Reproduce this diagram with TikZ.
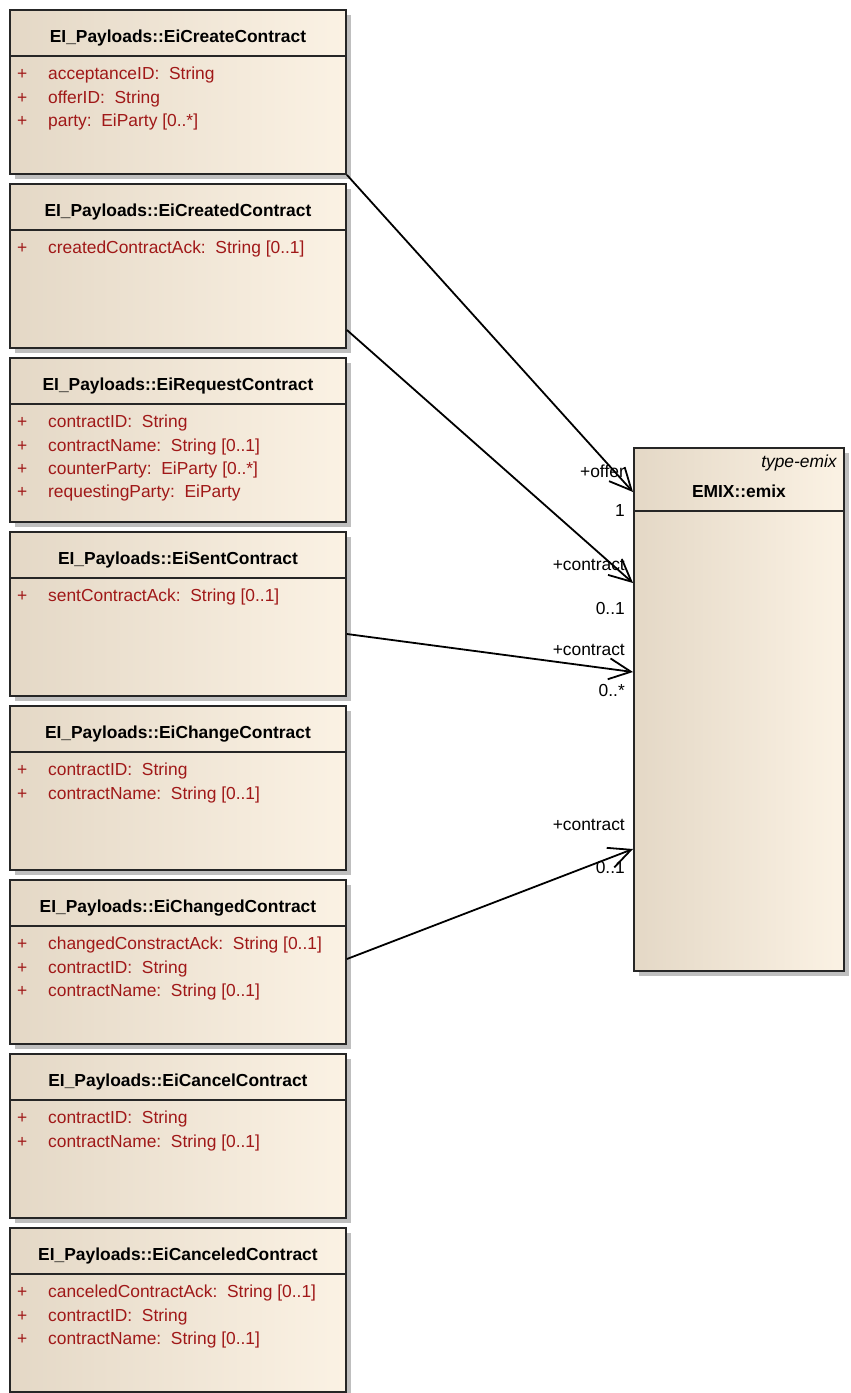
\documentclass[tikz,border=0pt]{standalone}
\usepackage{fontspec}
\setmainfont{Liberation Sans}
\usetikzlibrary{arrows.meta,shadows}

\definecolor{boxleft}{RGB}{228,216,198}
\definecolor{boxright}{RGB}{251,242,228}
\definecolor{attrred}{RGB}{160,24,24}
\newcommand{\attrplus}{\makebox[31pt][l]{+}}

\begin{document}
\begin{tikzpicture}
[x=1pt, y=-1pt,
  font=\fontsize{17.4}{23.3}\selectfont,
  class/.style={draw=black!85, line width=1.9pt, left color=boxleft, right color=boxright,
    minimum width=336pt, minimum height=164pt, inner sep=0pt, anchor=north west,
    drop shadow={shadow xshift=5pt, shadow yshift=-5pt, fill=black!25, opacity=1}},
  divider/.style={draw=black!85, line width=1.9pt},
  title/.style={font=\fontsize{17.4}{20}\selectfont\bfseries, anchor=base, inner sep=0pt},
  attr/.style={text=attrred, anchor=north west, inner sep=0pt, align=left},
  assoc/.style={line width=1.8pt, -{Straight Barb[length=22pt, width=21pt, line width=1.8pt]}},
  role/.style={anchor=east, inner sep=0pt}]
  \useasboundingbox (0,0) rectangle (851,1393);

  % payload classes
  \node[class] (create) at (9,9) {};
  \node[title] (create-t) at ([yshift=-33pt]create.north) {EI\_Payloads::EiCreateContract};
  \draw[divider] ([yshift=-47pt]create.north west) -- ([yshift=-47pt]create.north east);
  \node[attr] (create-a) at ([xshift=8pt,yshift=-58pt]create.north west)
    {\attrplus acceptanceID:\ \ String\\ \attrplus offerID:\ \ String\\ \attrplus party:\ \ EiParty [0..*]};

  \node[class] (created) at (9,183) {};
  \node[title] (created-t) at ([yshift=-33pt]created.north) {EI\_Payloads::EiCreatedContract};
  \draw[divider] ([yshift=-47pt]created.north west) -- ([yshift=-47pt]created.north east);
  \node[attr] (created-a) at ([xshift=8pt,yshift=-58pt]created.north west)
    {\attrplus createdContractAck:\ \ String [0..1]};

  \node[class] (request) at (9,357) {};
  \node[title] (request-t) at ([yshift=-33pt]request.north) {EI\_Payloads::EiRequestContract};
  \draw[divider] ([yshift=-47pt]request.north west) -- ([yshift=-47pt]request.north east);
  \node[attr] (request-a) at ([xshift=8pt,yshift=-58pt]request.north west)
    {\attrplus contractID:\ \ String\\ \attrplus contractName:\ \ String [0..1]\\
     \attrplus counterParty:\ \ EiParty [0..*]\\ \attrplus requestingParty:\ \ EiParty};

  \node[class] (sent) at (9,531) {};
  \node[title] (sent-t) at ([yshift=-33pt]sent.north) {EI\_Payloads::EiSentContract};
  \draw[divider] ([yshift=-47pt]sent.north west) -- ([yshift=-47pt]sent.north east);
  \node[attr] (sent-a) at ([xshift=8pt,yshift=-58pt]sent.north west)
    {\attrplus sentContractAck:\ \ String [0..1]};

  \node[class] (change) at (9,705) {};
  \node[title] (change-t) at ([yshift=-33pt]change.north) {EI\_Payloads::EiChangeContract};
  \draw[divider] ([yshift=-47pt]change.north west) -- ([yshift=-47pt]change.north east);
  \node[attr] (change-a) at ([xshift=8pt,yshift=-58pt]change.north west)
    {\attrplus contractID:\ \ String\\ \attrplus contractName:\ \ String [0..1]};

  \node[class] (changed) at (9,879) {};
  \node[title] (changed-t) at ([yshift=-33pt]changed.north) {EI\_Payloads::EiChangedContract};
  \draw[divider] ([yshift=-47pt]changed.north west) -- ([yshift=-47pt]changed.north east);
  \node[attr] (changed-a) at ([xshift=8pt,yshift=-58pt]changed.north west)
    {\attrplus changedConstractAck:\ \ String [0..1]\\ \attrplus contractID:\ \ String\\
     \attrplus contractName:\ \ String [0..1]};

  \node[class] (cancel) at (9,1053) {};
  \node[title] (cancel-t) at ([yshift=-33pt]cancel.north) {EI\_Payloads::EiCancelContract};
  \draw[divider] ([yshift=-47pt]cancel.north west) -- ([yshift=-47pt]cancel.north east);
  \node[attr] (cancel-a) at ([xshift=8pt,yshift=-58pt]cancel.north west)
    {\attrplus contractID:\ \ String\\ \attrplus contractName:\ \ String [0..1]};

  \node[class] (canceled) at (9,1227) {};
  \node[title] (canceled-t) at ([yshift=-33pt]canceled.north) {EI\_Payloads::EiCanceledContract};
  \draw[divider] ([yshift=-47pt]canceled.north west) -- ([yshift=-47pt]canceled.north east);
  \node[attr] (canceled-a) at ([xshift=8pt,yshift=-58pt]canceled.north west)
    {\attrplus canceledContractAck:\ \ String [0..1]\\ \attrplus contractID:\ \ String\\
     \attrplus contractName:\ \ String [0..1]};

  % the emix type
  \node[class, minimum width=210pt, minimum height=523pt] (emix) at (633,447) {};
  \node[anchor=base east, inner sep=0pt, font=\fontsize{17.4}{20}\selectfont\itshape] (emix-s)
    at ([xshift=-8pt,yshift=-20pt]emix.north east) {type-emix};
  \node[title] (emix-t) at ([yshift=-50pt]emix.north) {EMIX::emix};
  \draw[divider] ([yshift=-64pt]emix.north west) -- ([yshift=-64pt]emix.north east);

  % associations
  \draw[assoc] (create.south east) -- ([yshift=-45pt]emix.north west);
  \draw[assoc] ([yshift=-147pt]created.north east) -- ([yshift=-136pt]emix.north west);
  \draw[assoc] ([yshift=-103pt]sent.north east) -- ([yshift=-225pt]emix.north west);
  \draw[assoc] ([yshift=-80pt]changed.north east) -- ([yshift=-402pt]emix.north west);

  \node[role] (offer-r) at (625,471) {+offer};
  \node[role] (offer-m) at (625,511) {1};
  \node[role] (created-r) at (625,565) {+contract};
  \node[role] (created-m) at (625,609) {0..1};
  \node[role] (sent-r) at (625,650) {+contract};
  \node[role] (sent-m) at (625,690) {0..*};
  \node[role] (changed-r) at (625,825) {+contract};
  \node[role] (changed-m) at (625,867) {0..1};
\end{tikzpicture}
\end{document}
